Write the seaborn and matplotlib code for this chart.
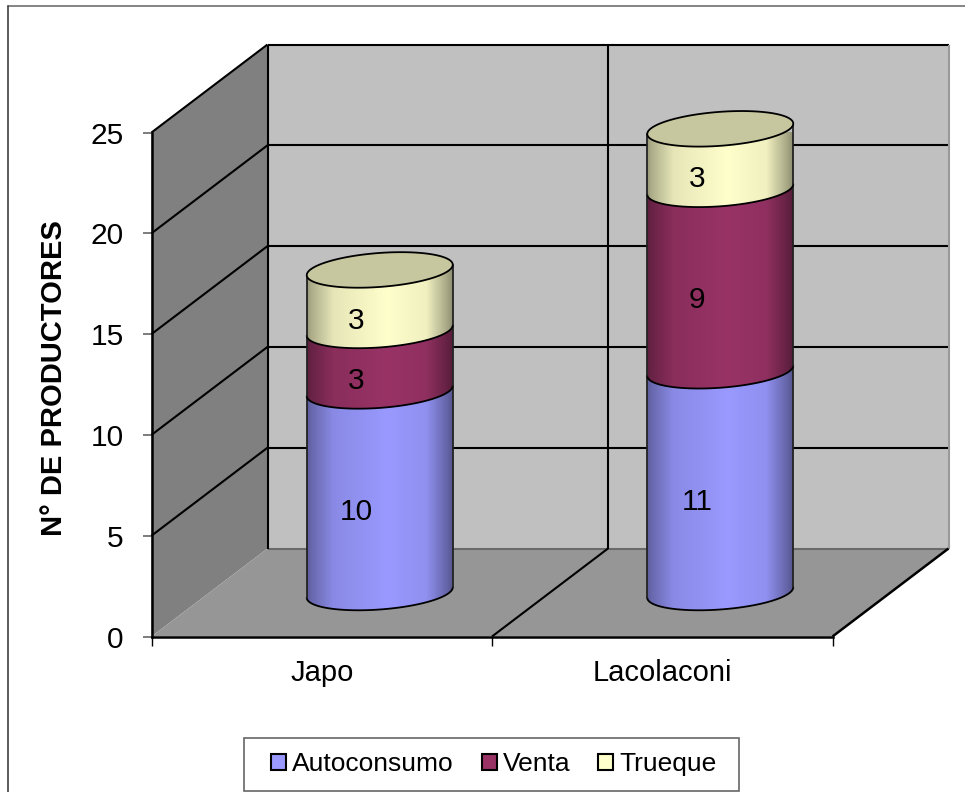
import numpy as np
import pandas as pd
import matplotlib
matplotlib.use("Agg")
import matplotlib.pyplot as plt
from matplotlib.lines import Line2D
from matplotlib.patches import Polygon, Patch, Rectangle
import seaborn as sns

# Data
categories = ["Japo", "Lacolaconi"]
series_names = ["Autoconsumo", "Venta", "Trueque"]
autoconsumo = [10, 11]
venta = [3, 9]
trueque = [3, 3]
y_ticks = [0, 5, 10, 15, 20, 25]
y_label = "N° DE PRODUCTORES"

# Colours
series_colors = sns.color_palette(["#9999FF", "#993366", "#FFFFCC"])
WALL = "#C0C0C0"
SIDE = "#808080"
FLOOR = "#969696"

# Horizontal shading across a cylinder
shade_pos = [0.0, 0.03, 0.18, 0.55, 0.82, 0.96, 1.0]
shade_val = [0.60, 0.68, 0.90, 1.0, 0.94, 0.66, 0.56]

sns.set_theme(style="white", rc={"axes.facecolor": "none"})
plt.rcParams["font.family"] = ["Liberation Sans", "DejaVu Sans"]

W, H = 965, 792
fig = plt.figure(figsize=(W / 100, H / 100), dpi=100, facecolor="white")
# Front plane of the chart box: axis area in figure pixels
L, R, T, B = 151.5, 832.5, 132.5, 636.5
ax = fig.add_axes([L / W, 1 - B / H, (R - L) / W, (B - T) / H])
ax.set_xlim(0, len(categories))
ax.set_ylim(0, 25)
ax.autoscale(False)

# Oblique depth: one full depth unit shifts right and up, in axis units
DX = 116 / ((R - L) / len(categories))
DY = 88 / ((B - T) / 25)
n = len(categories)
RADIUS = 73 / ((R - L) / n)
MINOR = 17.0 / ((B - T) / 25)
TILT = 5.2 / ((B - T) / 25)


def proj(x, y, d=0.0):
    return x + DX * d, y + DY * d


def poly(points, **kw):
    p = Polygon(points, closed=True, clip_on=False, **kw)
    ax.add_patch(p)
    return p


def seg(a, b, color="black", lw=1.5, z=3):
    ax.plot([a[0], b[0]], [a[1], b[1]], color=color, lw=lw, clip_on=False,
            zorder=z, solid_capstyle="butt")


# Walls and floor
poly([proj(0, 0, 1), proj(n, 0, 1), proj(n, 25, 1), proj(0, 25, 1)], fc=WALL, ec="none", zorder=1)
poly([proj(0, 0), proj(0, 0, 1), proj(0, 25, 1), proj(0, 25)], fc=SIDE, ec="none", zorder=1)
poly([proj(0, 0), proj(n, 0), proj(n, 0, 1), proj(0, 0, 1)], fc=FLOOR, ec="none", zorder=1.5)

# Gridlines folding from side wall to back wall
for v in y_ticks[1:]:
    seg(proj(0, v), proj(0, v, 1))
    seg(proj(0, v, 1), proj(n, v, 1))
seg(proj(0, 0, 1), proj(n, 0, 1), color="#6a6a6a", lw=1.5)
seg(proj(0, 0, 1), proj(0, 25, 1))
seg(proj(n, 0, 1), proj(n, 25, 1), color="#999999", lw=1.5)
for i in range(1, n):
    seg(proj(i, 0), proj(i, 0, 1))
    seg(proj(i, 0, 1), proj(i, 25, 1))
seg(proj(n, 0), proj(n, 0, 1), lw=1.8)


def ellipse(cx, cy, t):
    return cx + RADIUS * np.cos(t), cy + MINOR * np.sin(t) + TILT * np.cos(t)


def draw_segment(i, low, high, color, z):
    cx, base = proj(i + 0.5, 0, 0.5)
    lower = base + low
    upper = base + high
    # Near half of each rim runs from the right tangent to the left one
    t = np.linspace(0, -np.pi, 80)
    xl, yl = ellipse(cx, lower, t)
    xu, yu = ellipse(cx, upper, t)
    body = np.vstack([np.column_stack([xl, yl]), np.column_stack([xu, yu])[::-1]])
    outline = poly(body, fc="none", ec="none", zorder=z)
    rgb = np.array(color)
    ramp = np.interp(np.linspace(0, 1, 256), shade_pos, shade_val)
    img = (ramp[:, None] * rgb[None, :])[None, :, :]
    im = ax.imshow(img, extent=[cx - RADIUS, cx + RADIUS, lower - 2, upper + 2],
                   aspect="auto", zorder=z, interpolation="bilinear")
    im.set_clip_box(None)
    im.set_clip_path(outline)
    ax.plot(xl, yl, color="black", lw=1.3, clip_on=False, zorder=z + 0.1)
    ax.plot([xl[0], xu[0]], [yl[0], yu[0]], color="#222222", lw=1.3, clip_on=False, zorder=z + 0.1)
    ax.plot([xl[-1], xu[-1]], [yl[-1], yu[-1]], color="#222222", lw=1.3, clip_on=False, zorder=z + 0.1)


stack = pd.DataFrame({"Autoconsumo": autoconsumo, "Venta": venta, "Trueque": trueque},
                     index=categories)
bottoms = stack.cumsum(axis=1).shift(1, axis=1).fillna(0)
for i, cat in enumerate(categories):
    for j, name in enumerate(series_names):
        low = bottoms.loc[cat, name]
        val = stack.loc[cat, name]
        draw_segment(i, low, low + val, series_colors[j], 5 + j)
        lx, ly = proj(i + 0.5, low + val / 2, 0.3)
        ax.annotate(str(val), xy=(lx, ly), xytext=(0, -2), textcoords="offset points",
                    ha="center", va="center", fontsize=21.5, color="black",
                    zorder=20, annotation_clip=False)
    # Lid on the top of the stack
    cx, base = proj(i + 0.5, 0, 0.5)
    t = np.linspace(0, 2 * np.pi, 160)
    ex, ey = ellipse(cx, base + stack.loc[cat].sum(), t)
    poly(np.column_stack([ex, ey]), fc=tuple(np.array(series_colors[2]) * 0.78),
         ec="black", lw=1.3, zorder=10)

# Axes
for s in ["top", "right"]:
    ax.spines[s].set_visible(False)
for s in ["left", "bottom"]:
    ax.spines[s].set_color("black")
    ax.spines[s].set_linewidth(1.8)
    ax.spines[s].set_zorder(4)
ax.set_yticks(y_ticks)
ax.set_yticklabels([str(v) for v in y_ticks], fontsize=21.5)
ax.set_xticks(range(n + 1))
ax.set_xticklabels([])
ax.tick_params(axis="y", length=6.5, width=1.2, color="#666666", left=True, pad=13.5, labelcolor="black")
ax.tick_params(axis="x", length=6.5, width=1.0, color="black", bottom=True)
for i, cat in enumerate(categories):
    ax.annotate(cat, xy=(i + 0.5, 0), xycoords="data", xytext=(0, -26),
                textcoords="offset points", ha="center", va="center",
                fontsize=21, color="black")
fig.text(54 / W, 1 - 378 / H, y_label, rotation=90, ha="center", va="center",
         fontsize=21, fontweight="bold", color="black")

# Legend box with its entries placed inside
fig.add_artist(Rectangle((243.5 / W, 1 - 790.5 / H), 495 / W, 53 / H, transform=fig.transFigure,
                         fc="white", ec="#666666", lw=1.2))
handles = [Patch(fc=c, ec="black", lw=1.5) for c in series_colors]
leg = fig.legend(handles, series_names, loc="center", bbox_to_anchor=(494 / W, 1 - 764 / H),
                 ncol=3, frameon=False, fontsize=19, handlelength=0.57,
                 handleheight=0.57, handletextpad=0.24, columnspacing=1.05,
                 borderpad=0.2, labelcolor="black")
leg.set_zorder(30)

# Chart frame: visible along the top and left edges only
fig.add_artist(Line2D([8 / W, 965 / W], [1 - 5.5 / H, 1 - 5.5 / H], transform=fig.transFigure,
                      color="#707070", lw=1.2))
fig.add_artist(Line2D([8 / W, 8 / W], [1 - 5.5 / H, 0], transform=fig.transFigure,
                      color="#404040", lw=1.2))

fig.savefig("out.png", dpi=100)
